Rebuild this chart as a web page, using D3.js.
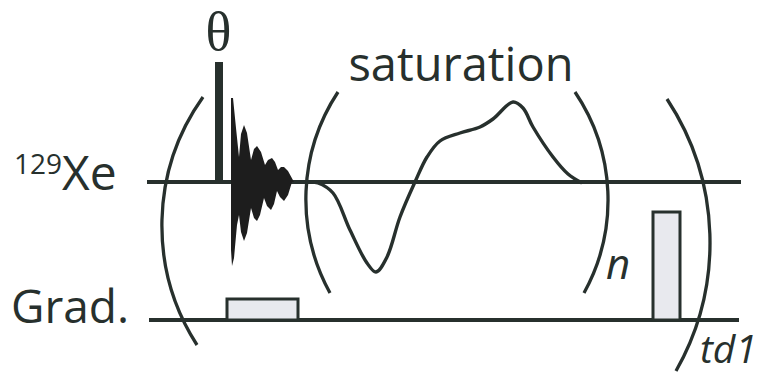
<!DOCTYPE html>
<html>
<head>
<meta charset="utf-8">
<script src="https://cdn.jsdelivr.net/npm/d3@7"></script>
<style>
  html, body { margin: 0; padding: 0; background: #fff; }
  svg { display: block; }
</style>
</head>
<body>
<svg id="seq" width="766" height="374"></svg>
<script>
// ---- pulse-sequence data (time units along the sequence, amplitude units per channel) ----
const channels = ["129Xe", "Grad."];
const channelSpan = [[0, 594], [2, 592]];

// excitation hard pulse θ on the Xe channel: [start, end, amplitude]
const thetaPulse = [68, 76, 120];

// free induction decay outline: upper and lower envelopes [t, amp]
const fidUpper = [[84,0],[84,84],[86,84],[89,54],[92,25],[94,48],[97,57],[100,49],[104,22],[107,33],[110,36],[114,30],[118,17],[121,22],[125,24],[128,20],[131,12],[134,15],[137,15],[141,11],[147,0]];
const fidLower = [[84,0],[84,-68],[85,-84],[87,-76],[90,-43],[92,-33],[94,-50],[97,-59],[100,-51],[104,-26],[107,-36],[110,-39],[113,-33],[117,-16],[120,-24],[124,-28],[127,-22],[130,-9],[133,-15],[137,-19],[141,-13],[145,0]];

// shaped saturation pulse [t, amp]
const satWave = [[163,0],[171,-1],[186,-11],[203,-48],[220,-81],[229,-90],[240,-75],[253,-35],[268,0],[280,25],[293,41],[313,49],[333,55],[346,63],[366,80],[376,74],[386,55],[406,25],[421,8],[435,-1]];

// gradient pulses on the Grad. channel: [start, end, amplitude]
const gradPulses = [[80, 151, 21], [506, 533, 108]];

// loop brackets: top, outer extreme, bottom [t, amp] relative to the Xe channel
const brackets = [
  [[56, 85], [15, -50], [50, -163]],
  [[191, 90], [159, -10], [183, -111]],
  [[428, 90], [461, -15], [437, -111]],
  [[520, 83], [563, -60], [529, -189]]
];

// ---- scales ----
const svg = d3.select("#seq");
const ink = "#27302d";
const x = d3.scaleLinear().domain([0, 594]).range([147, 741]);
const channelY = d3.scalePoint().domain(channels).range([182, 320]);
const amp = d3.scaleLinear().domain([-100, 100]).range([100, -100]);
const yOn = (ch, a) => channelY(ch) + amp(a);
const xe = channels[0], gr = channels[1];

// ---- channel baselines ----
svg.selectAll("line.base").data(channels).join("line")
  .attr("class", "base")
  .attr("x1", (d, i) => x(channelSpan[i][0]))
  .attr("x2", (d, i) => x(channelSpan[i][1]))
  .attr("y1", d => channelY(d)).attr("y2", d => channelY(d))
  .attr("stroke", ink).attr("stroke-width", 4);

// ---- θ pulse ----
svg.append("rect")
  .attr("x", x(thetaPulse[0])).attr("width", x(thetaPulse[1]) - x(thetaPulse[0]))
  .attr("y", yOn(xe, thetaPulse[2])).attr("height", yOn(xe, 0) - yOn(xe, thetaPulse[2]))
  .attr("fill", ink);

// ---- FID ----
const outline = d3.line().x(d => x(d[0])).y(d => yOn(xe, d[1])).curve(d3.curveLinear);
svg.append("path")
  .attr("d", outline(fidUpper.concat(fidLower.slice().reverse())) + "Z")
  .attr("fill", "#1d1d1d");

// ---- saturation shaped pulse ----
svg.append("path")
  .attr("d", d3.line().x(d => x(d[0])).y(d => yOn(xe, d[1])).curve(d3.curveCatmullRom.alpha(0.5))(satWave))
  .attr("fill", "none").attr("stroke", ink).attr("stroke-width", 3.4)
  .attr("stroke-linejoin", "round");

// ---- gradient pulses ----
svg.selectAll("rect.grad").data(gradPulses).join("rect")
  .attr("class", "grad")
  .attr("x", d => x(d[0])).attr("width", d => x(d[1]) - x(d[0]))
  .attr("y", d => yOn(gr, d[2])).attr("height", d => yOn(gr, 0) - yOn(gr, d[2]))
  .attr("fill", "#e8e9ee").attr("stroke", ink).attr("stroke-width", 3);

// ---- brackets: circular arcs through three points ----
function arcPath(pts) {
  const [a, b, c] = pts.map(p => [x(p[0]), yOn(xe, p[1])]);
  const d = 2 * (a[0] * (b[1] - c[1]) + b[0] * (c[1] - a[1]) + c[0] * (a[1] - b[1]));
  const s = p => p[0] * p[0] + p[1] * p[1];
  const ux = (s(a) * (b[1] - c[1]) + s(b) * (c[1] - a[1]) + s(c) * (a[1] - b[1])) / d;
  const uy = (s(a) * (c[0] - b[0]) + s(b) * (a[0] - c[0]) + s(c) * (b[0] - a[0])) / d;
  const r = Math.hypot(a[0] - ux, a[1] - uy);
  const cross = (b[0] - a[0]) * (c[1] - a[1]) - (b[1] - a[1]) * (c[0] - a[0]);
  const sweep = cross > 0 ? 1 : 0;
  return `M${a[0]},${a[1]}A${r},${r} 0 0 ${sweep} ${c[0]},${c[1]}`;
}
svg.selectAll("path.bracket").data(brackets).join("path")
  .attr("class", "bracket")
  .attr("d", arcPath)
  .attr("fill", "none").attr("stroke", ink).attr("stroke-width", 3.3);

// ---- labels ----
const sans = "'Open Sans', 'Noto Sans', sans-serif";
const lab = svg.append("g").attr("fill", ink).attr("font-family", sans);

const xeLabel = lab.append("text").attr("x", 14).attr("y", 190).attr("font-size", 48);
xeLabel.append("tspan").attr("font-size", 28).attr("dy", -16).text("129");
xeLabel.append("tspan").attr("dy", 16).text("Xe");

lab.append("text").attr("x", 11).attr("y", 323).attr("font-size", 46).text("Grad.");

lab.append("text").attr("x", 218.5).attr("y", 50).attr("text-anchor", "middle")
  .attr("font-family", "'Liberation Serif', 'DejaVu Serif', serif").attr("font-size", 54).text("θ");

lab.append("text").attr("x", 461).attr("y", 81).attr("text-anchor", "middle")
  .attr("font-size", 47).text("saturation");

lab.append("text").attr("x", 606).attr("y", 279).attr("font-size", 42)
  .attr("font-style", "italic").text("n");

lab.append("text").attr("x", 700).attr("y", 363).attr("font-size", 39)
  .attr("font-style", "italic").text("td1");
</script>
</body>
</html>
